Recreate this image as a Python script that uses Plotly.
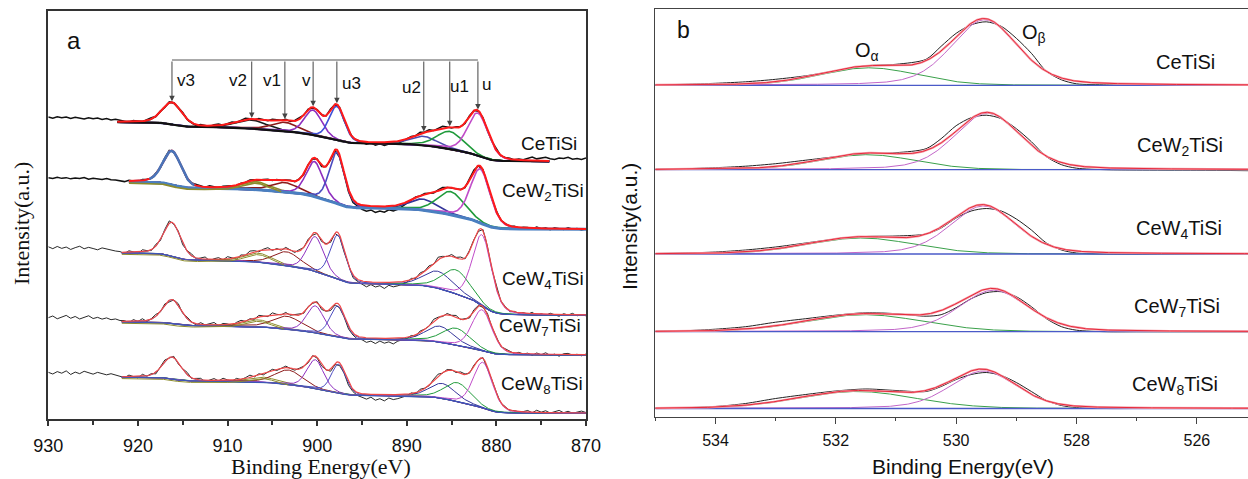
import numpy as np
import plotly.graph_objects as go

W, H = 1248, 479

# ---------------- Panel (a): Ce 3d XPS ----------------
be_a_range = [930, 870]
be_a_ticks = [930, 920, 910, 900, 890, 880, 870]
a_names = ["CeTiSi", "CeW<sub>2</sub>TiSi", "CeW<sub>4</sub>TiSi", "CeW<sub>7</sub>TiSi", "CeW<sub>8</sub>TiSi"]
ce_peak_labels = ["v3", "v2", "v1", "v", "u3", "u2", "u1", "u"]

# peak centres (eV), heights (a.u., above background), FWHM (eV): order v3 v2 v1 v u3 u2 u1 u
ce_center_CeTiSi = [916.2, 907.3, 903.6, 900.45, 897.8, 888.1, 885.2, 882.06]
ce_height_CeTiSi = [22, 8.5, 9, 25, 34, 9, 17.5, 43]
ce_fwhm_CeTiSi = [2.6, 4.0, 3.5, 2.3, 2.0, 3.5, 3.5, 2.7]

ce_center_CeW2 = [916.2, 906.8, 903.6, 900.3, 897.8, 888.2, 885.1, 881.8]
ce_height_CeW2 = [34, 8, 9.5, 35, 51, 11, 23, 54]
ce_fwhm_CeW2 = [2.4, 3.5, 3.5, 2.2, 2.0, 3.5, 3.5, 2.6]

ce_center_CeW4 = [916.2, 906.5, 903.4, 900.2, 897.7, 886.5, 884.5, 881.6]
ce_height_CeW4 = [34, 9, 14, 35, 44, 17, 24, 71]
ce_fwhm_CeW4 = [2.3, 3.5, 3.5, 2.2, 2.0, 3.8, 3.6, 2.5]

ce_center_CeW7 = [916.2, 906.5, 903.4, 900.2, 897.7, 886.3, 884.5, 881.6]
ce_height_CeW7 = [24, 7, 13, 27, 31, 16, 17, 41]
ce_fwhm_CeW7 = [2.4, 3.5, 3.8, 2.3, 2.0, 3.6, 3.6, 2.6]

ce_center_CeW8 = [916.2, 906.0, 903.2, 900.2, 897.6, 886.0, 884.35, 881.5]
ce_height_CeW8 = [22, 5, 14.5, 29, 29, 15, 19, 46]
ce_fwhm_CeW8 = [2.4, 3.5, 3.6, 2.2, 1.9, 3.4, 3.4, 2.5]

# background levels (stacked intensity, a.u.) at high-BE and low-BE side, fit window (eV)
bg_left_a = [297.3, 237.8, 166.6, 97.6, 42.3]
bg_right_a = [257.8, 190.0, 104.0, 64.3, 6.0]
fit_hi_a = [922.3, 921.0, 921.8, 921.8, 921.8]
fit_lo_a = [874.1, 870.0, 870.0, 870.0, 870.0]

# measured-minus-fit deviations of the raw spectra, 930 -> 870 eV every 0.5 eV
raw_dev_CeTiSi = [4.8, 3.6, 5.2, 4.1, 4.9, 3.4, 4.6, 3.9, 2.8, 4.2, 3.1, 3.8, 2.4, 3.3, 1.9, 2.6, 1.2,
    0.4, -0.6, 1.1, 0.2, -0.9, 0.7, 1.3, -0.4, 0.5, -1.0, 0.8, 0.3, -0.5, 1.2, -0.2, 0.6, -0.8, 1.0, 0.1, -0.6,
    0.9, 1.4, -0.3, 0.7, 1.1, -0.5, 0.4, 1.3, 0.2, -0.7, 0.9, 0.5, -0.2, 1.0, 0.3, -0.4, 0.8, -0.6, 0.6, 1.0,
    -0.3, 0.4, -0.8, 0.7, 0.2, -0.5, 0.9, -0.2, 0.5, -0.9, 0.3, -0.6, 0.4,
    -1.2, -2.3, -0.8, -2.9, -1.5, -3.1, -1.9, -0.7, -2.4, -1.1, -0.3,
    0.6, -0.4, 1.2, 0.3, 1.5, -0.2, 0.9, 1.8, 0.4, -0.5, 1.1, 0.2, -0.7, 0.8, 0.3, -0.4, 0.9, -0.3, 0.5, 1.0,
    -0.6, 0.4, 0.8, -0.2, 1.1, 0.6,
    2.1, 3.4, 1.8, 2.9, 3.6, 2.2, 1.6, 3.1, 2.5, 3.8, 2.0, 2.7, 1.7, 3.2]
raw_dev_CeW2 = [3.6, 2.8, 4.1, 3.0, 3.7, 2.5, 3.4, 2.9, 3.8, 2.2, 3.1, 2.6, 1.9, 2.8, 1.5, 1.1, 0.6,
    -0.5, 0.8, 0.2, -0.9, 1.0, 0.4, -0.3, 0.7, -0.8, 0.5, 1.2, -0.4, 0.3, 0.9, -0.6, 0.1, 1.1, 0.6, -0.2, 1.3,
    0.4, -0.5, 0.8, 1.0, 0.2, -0.7, 0.6, -0.1, 0.9, 0.3, -0.6, 0.5, 1.0, -0.3, 0.4, -0.8, 0.2, 0.7, -0.4, 0.5,
    -0.9, 0.3, -0.5, 0.6, -1.2, -0.4, -1.6, -0.8, -2.1, -1.5, -2.6, -3.2, -2.4,
    -4.1, -5.3, -3.8, -6.2, -4.6, -5.8, -3.5, -5.1, -4.3, -2.6, -1.4,
    -0.5, 0.7, -0.2, 1.1, 0.4, -0.6, 0.9, 1.4, 0.2, -0.4, 0.8, 0.3, -0.7, 0.6, 1.0, -0.3, 0.5, -0.8, 0.2, 0.9,
    -0.5, 0.4, -0.2, 0.7, -0.6, 0.3,
    0.5, -0.8, 1.2, -0.3, 0.6, -1.1, 0.9, 0.1, -0.7, 1.0, -0.4, 0.5, -0.9, 0.3]
raw_dev_CeW4 = [5.8, 3.9, 6.1, 4.2, 5.5, 3.1, 4.9, 6.3, 3.8, 5.2, 4.0, 2.7, 4.6, 3.3, 2.1, 1.4, 0.8,
    -1.2, 1.5, 0.3, -1.8, 2.1, 0.6, -0.9, 1.7, -1.4, 0.9, 2.3, -0.6, 1.1, -1.9, 0.4, 1.8, -1.0, 0.7, 2.0, -1.5,
    0.5, 1.6, -0.8, 2.2, 0.1, -1.6, 1.3, -0.5, 1.9, 0.8, -1.3, 1.0, 2.4, -0.7, 0.6, -1.7, 1.4, 0.2, -1.1, 1.5,
    -0.4, 0.9, -1.8, 0.3, -1.2, 0.7, -2.2, -0.6, -1.9, -2.8, -1.4, -3.0, -2.1,
    -3.1, -5.2, -2.6, -4.8, -3.4, -6.1, -2.9, -4.5, -3.7, -2.2, -1.5,
    1.2, -0.8, 2.0, 0.4, 1.6, -1.1, 2.5, 0.9, -0.5, 1.8, 0.3, 2.2, -0.9, 1.1, 0.6, -1.4, 1.5, 0.2, -1.0, 1.3,
    -0.6, 0.8, -1.3, 0.5, -0.8, 0.4,
    -0.7, 1.3, -1.6, 0.4, -1.2, 1.1, -0.5, -1.8, 0.9, -0.3, 1.4, -1.0, 0.2, -0.9]
raw_dev_CeW7 = [3.9, 5.6, 2.8, 4.7, 6.2, 3.3, 5.1, 2.6, 4.4, 5.8, 3.0, 4.2, 2.4, 3.6, 1.8, 2.5, 0.9,
    0.8, -1.4, 1.7, -0.3, 2.2, -1.1, 0.5, 1.9, -0.7, 1.2, -1.6, 0.4, 2.1, -0.5, 1.5, 0.2, -1.3, 1.8, -0.2, 0.9,
    2.4, -0.9, 1.3, 0.6, -1.5, 1.0, 2.0, -0.4, 0.7, -1.2, 1.6, 0.3, -0.8, 2.3, 0.1, -1.0, 1.4, -0.6, 0.8, 1.7,
    -1.1, 0.5, -0.9, 1.2, -1.7, -0.3, -2.0, -1.2, -2.6, -1.8, -3.1, -2.2, -2.9,
    -2.4, -4.6, -3.1, -5.4, -2.8, -4.9, -3.6, -5.7, -3.0, -2.1, -1.2,
    0.9, -1.2, 1.6, 0.2, -0.6, 2.1, 0.7, -0.9, 1.4, 0.3, 1.9, -0.4, 0.8, -1.5, 1.2, 0.5, -0.7, 1.7, -0.2, 0.6,
    -1.1, 1.0, 0.3, -0.8, 0.9, -0.4,
    0.6, -1.4, 1.1, -0.6, 1.5, -1.0, 0.3, -1.7, 0.8, 1.2, -0.5, 0.4, -1.1, 0.7]
raw_dev_CeW8 = [4.6, 2.9, 5.3, 3.7, 6.0, 2.4, 4.8, 3.2, 5.6, 3.9, 2.7, 4.5, 3.4, 2.0, 3.1, 1.6, 0.7,
    -0.9, 1.6, 0.2, -1.5, 2.0, -0.4, 1.1, -1.8, 0.7, 1.9, -0.6, 1.3, -1.2, 0.5, 2.2, -0.8, 0.9, 1.6, -1.4, 0.3,
    1.8, -0.5, 2.1, 0.4, -1.0, 1.4, -0.3, 0.8, 2.3, -0.7, 1.1, -1.3, 0.6, 1.7, -0.9, 0.2, 1.5, -0.4, -1.1, 0.9,
    0.4, -1.6, 0.7, -0.8, -1.9, 0.1, -2.3, -1.1, -2.8, -1.7, -3.3, -2.4, -3.0,
    -3.6, -5.1, -2.9, -5.8, -4.2, -6.3, -3.4, -5.0, -4.1, -2.5, -1.6,
    0.7, -1.1, 1.8, 0.3, -0.7, 1.5, 2.2, -0.5, 1.0, 0.4, -1.2, 1.6, 0.6, -0.8, 1.3, -0.3, 0.9, -1.4, 0.5, 1.1,
    -0.6, 0.8, -1.0, 0.4, -0.5, 0.2,
    1.5, -0.6, 2.1, 0.3, 1.8, -0.4, 1.2, 2.4, 0.1, 1.6, -0.3, 1.0, 1.9, 0.5]

# ---------------- Panel (b): O 1s XPS ----------------
be_b_range = [535, 525.15]
be_b_ticks = [534, 532, 530, 528, 526]
b_names = a_names
o_base = [331.4, 247.0, 162.7, 85.0, 8.2]
oa_center = [531.45, 531.48, 531.58, 531.52, 531.65]
oa_height = [17.5, 15.0, 16.0, 17.0, 17.0]
oa_fwhm = [1.9, 1.9, 2.1, 2.3, 2.3]
ob_center = [529.53, 529.48, 529.55, 529.38, 529.55]
ob_height = [65.5, 56.5, 48.0, 41.5, 37.5]
ob_fwhm = [1.3, 1.3, 1.3, 1.35, 1.3]
o_raw_be = [535, 534.5, 534, 533.5, 533, 532.5, 532, 531.5, 531, 530.5, 530.25, 530, 529.75, 529.5,
            529.25, 529, 528.75, 528.5, 528.25, 528, 527.5, 527, 526, 525.15]
o_raw_CeTiSi = [0.5, 1, 2, 3.5, 6, 9.5, 14.5, 19.5, 21, 26, 39, 52, 60.5, 63.5, 59, 47, 32, 14, 5.5, 1.5, 0.5, 0, 0, 0]
o_raw_CeW2 = [0.5, 1, 2, 3.5, 6, 9.5, 13, 16, 17, 21, 31, 44, 52, 54.5, 51, 41, 28, 13, 5, 1.5, 0, -0.3, -0.5, -1]
o_raw_CeW4 = [0.5, 1, 2, 4, 7, 11, 15, 17.5, 18, 20, 26, 36, 43, 45.5, 43, 35, 24, 11, 4, 1, 0, 0, 0, 0]
o_raw_CeW7 = [0.5, 1, 2.5, 5, 9.5, 13, 16.5, 19, 18, 15.5, 17, 24, 33, 39, 40, 35, 25, 13, 5, 1.5, 0, 0, 0, 0]
o_raw_CeW8 = [0.3, 0.8, 2, 5, 10, 14, 17.5, 19.5, 18, 17, 22, 29, 34, 36, 33, 26, 17, 8, 3, 1, 0, 0, 0, 0]

# ---------------- helpers ----------------
def pv(x, c, h, w, eta):
    r = (np.asarray(x, dtype=float) - c) / w
    return h * ((1 - eta) * np.exp(-4 * np.log(2) * r * r) + eta / (1 + 4 * r * r))

STEP = 0.05
xf = np.linspace(930, 870, 1201)

def shirley(peaksum, bl, br):
    cum = np.cumsum(peaksum[::-1])[::-1] * STEP
    return br + (bl - br) * cum / cum[0]

def PX(x):
    return x / W

def PY(y):
    return 1 - y / H

SANS = "Liberation Sans, Arial, sans-serif"
SERIF = "Liberation Serif, Times New Roman, serif"

fig = go.Figure()

ce_centers = [ce_center_CeTiSi, ce_center_CeW2, ce_center_CeW4, ce_center_CeW7, ce_center_CeW8]
ce_heights = [ce_height_CeTiSi, ce_height_CeW2, ce_height_CeW4, ce_height_CeW7, ce_height_CeW8]
ce_fwhms = [ce_fwhm_CeTiSi, ce_fwhm_CeW2, ce_fwhm_CeW4, ce_fwhm_CeW7, ce_fwhm_CeW8]
raw_devs = [raw_dev_CeTiSi, raw_dev_CeW2, raw_dev_CeW4, raw_dev_CeW7, raw_dev_CeW8]

comp_colors_top = ["#2a2a2a", "#1a1a1a", "#8b1a1a", "#8e2fbf", "#3f51d8", "#4b4bb0", "#1f9a3a", "#c04cc8"]
comp_colors = ["#4a74b8", "#8c8c2c", "#8b1a1a", "#8e2fbf", "#4b4bc0", "#35359a", "#1f9a3a", "#c04cc8"]
ETA_A = 0.25

top_env = None
for k in range(5):
    comps = [pv(xf, c, h, w, ETA_A) for c, h, w in zip(ce_centers[k], ce_heights[k], ce_fwhms[k])]
    total = np.sum(comps, axis=0)
    bg = shirley(total, bg_left_a[k], bg_right_a[k])
    env = bg + total
    if k == 0:
        top_env = env
    mask = (xf <= fit_hi_a[k] + 1e-9) & (xf >= fit_lo_a[k] - 1e-9)
    dev = np.array(raw_devs[k], dtype=float)
    xr = np.linspace(930, 870, len(dev))
    idx = np.clip(np.round((930 - xr) / STEP).astype(int), 0, len(xf) - 1)
    raw = env[idx] + dev
    thick = k < 2
    fig.add_trace(go.Scatter(x=xr, y=raw, mode="lines", xaxis="x", yaxis="y",
                             line=dict(color="#111111", width=1.5 if thick else 0.9)))
    cols = comp_colors_top if k == 0 else comp_colors
    for j, cp in enumerate(comps):
        fig.add_trace(go.Scatter(x=xf[mask], y=(bg + cp)[mask], mode="lines", xaxis="x", yaxis="y",
                                 line=dict(color=cols[j], width=1.6 if thick else 1.0)))
    if k == 0:
        bgc, bgw = "#111111", 2.2
    elif k == 1:
        bgc, bgw = "#4a7fc0", 3.0
    else:
        bgc, bgw = "#3c56b8", 1.2
    fig.add_trace(go.Scatter(x=xf[mask], y=bg[mask], mode="lines", xaxis="x", yaxis="y",
                             line=dict(color=bgc, width=bgw)))
    if k >= 1:
        # v2 (olive) component on its high-BE side, drawn over the background
        m2 = mask & (xf >= ce_centers[k][1] - ce_fwhms[k][1] * 0.8)
        fig.add_trace(go.Scatter(x=xf[m2], y=(bg + comps[1])[m2] - 1.5, mode="lines", xaxis="x", yaxis="y",
                                 line=dict(color=comp_colors[1], width=1.6 if thick else 1.0)))
    fig.add_trace(go.Scatter(x=xf[mask], y=env[mask], mode="lines", xaxis="x", yaxis="y",
                             line=dict(color="#ff1a1a" if thick else "#f04848", width=2.0 if thick else 1.2)))
    if k == 1:
        # thick blue v3 component drawn on top for CeW2TiSi
        m3 = mask & (xf >= ce_centers[k][0] - 2.5) & (xf <= ce_centers[k][0] + 2.5)
        fig.add_trace(go.Scatter(x=xf[m3], y=(bg + comps[0])[m3], mode="lines", xaxis="x", yaxis="y",
                                 line=dict(color=comp_colors[0], width=2.6)))

# panel b traces
o_raws = [o_raw_CeTiSi, o_raw_CeW2, o_raw_CeW4, o_raw_CeW7, o_raw_CeW8]
xb = np.linspace(535, 525.15, 800)
for k in range(5):
    b0 = o_base[k]
    oa = pv(xb, oa_center[k], oa_height[k], oa_fwhm[k], 0.1)
    ob = pv(xb, ob_center[k], ob_height[k], ob_fwhm[k], 0.3)
    fig.add_trace(go.Scatter(x=o_raw_be, y=[b0 + v for v in o_raws[k]], mode="lines", xaxis="x2", yaxis="y2",
                             line=dict(color="#222222", width=1.0, shape="spline", smoothing=0.8)))
    fig.add_trace(go.Scatter(x=xb, y=b0 + oa, mode="lines", xaxis="x2", yaxis="y2",
                             line=dict(color="#3aa04a", width=1.0)))
    fig.add_trace(go.Scatter(x=xb, y=b0 + ob, mode="lines", xaxis="x2", yaxis="y2",
                             line=dict(color="#c266c8", width=1.0)))
    fig.add_trace(go.Scatter(x=xb, y=np.full_like(xb, b0), mode="lines", xaxis="x2", yaxis="y2",
                             line=dict(color="#4a5ac8", width=1.3)))
    fig.add_trace(go.Scatter(x=xb, y=b0 + oa + ob, mode="lines", xaxis="x2", yaxis="y2",
                             line=dict(color="#f4a0aa", width=2.2)))
    fig.add_trace(go.Scatter(x=xb, y=b0 + oa + ob, mode="lines", xaxis="x2", yaxis="y2",
                             line=dict(color="#e8283a", width=1.0)))

annotations = []
shapes = []

# peak marker arrows on the top spectrum of panel a
CONNECT_Y = 359.3
label_side = [1, -1, -1, -1, 1, -1, 1, 1]
label_shift = [14, 14, 13, 7, 15, 12, 10, 9]
label_y = [339.3, 339.3, 339.3, 339.3, 336.0, 332.0, 333.3, 335.3]
for j, c in enumerate(ce_center_CeTiSi):
    i = int(round((930 - c) / STEP))
    tip = top_env[i] + 1.0
    annotations.append(dict(x=c, y=tip, ax=c, ay=CONNECT_Y, xref="x", yref="y", axref="x", ayref="y",
                            text="", showarrow=True, arrowhead=2, arrowsize=1.1, arrowwidth=1.0,
                            arrowcolor="#444444", standoff=0))
    annotations.append(dict(x=c, y=label_y[j], xref="x", yref="y", text=ce_peak_labels[j], showarrow=False,
                            xshift=label_side[j] * label_shift[j], font=dict(family=SANS, size=17, color="#111")))
shapes.append(dict(type="line", xref="x", yref="y", x0=ce_center_CeTiSi[0], x1=ce_center_CeTiSi[-1],
                   y0=CONNECT_Y, y1=CONNECT_Y, line=dict(color="#555555", width=1.0)))

# sample labels
a_label_pos = [(549, 143.3), (543, 192), (542.7, 280), (540, 326.7), (542, 385)]
for name, (xp, yp) in zip(a_names, a_label_pos):
    annotations.append(dict(x=PX(xp), y=PY(yp), xref="paper", yref="paper", text=name, showarrow=False,
                            xanchor="center", yanchor="middle", font=dict(family=SANS, size=19, color="#111")))
b_label_pos = [(1185, 61.7), (1180, 146.7), (1178.7, 230), (1176.7, 307.3), (1175, 385)]
for name, (xp, yp) in zip(b_names, b_label_pos):
    annotations.append(dict(x=PX(xp), y=PY(yp), xref="paper", yref="paper", text=name, showarrow=False,
                            xanchor="center", yanchor="middle", font=dict(family=SANS, size=20, color="#111")))

# panel letters, O labels
annotations.append(dict(x=PX(74), y=PY(41), xref="paper", yref="paper", text="a", showarrow=False,
                        xanchor="center", yanchor="middle", font=dict(family=SANS, size=24, color="#111")))
annotations.append(dict(x=PX(683), y=PY(30), xref="paper", yref="paper", text="b", showarrow=False,
                        xanchor="center", yanchor="middle", font=dict(family=SANS, size=23, color="#111")))
annotations.append(dict(x=PX(867), y=PY(51), xref="paper", yref="paper", text="O<sub>α</sub>", showarrow=False,
                        xanchor="center", yanchor="middle", font=dict(family=SANS, size=20, color="#111")))
annotations.append(dict(x=PX(1034), y=PY(34), xref="paper", yref="paper", text="O<sub>β</sub>", showarrow=False,
                        xanchor="center", yanchor="middle", font=dict(family=SANS, size=20, color="#111")))

# axis titles
annotations.append(dict(x=PX(321), y=PY(466), xref="paper", yref="paper", text="Binding Energy(eV)",
                        showarrow=False, xanchor="center", yanchor="middle",
                        font=dict(family=SERIF, size=22, color="#111")))
annotations.append(dict(x=PX(21), y=PY(224), xref="paper", yref="paper", text="Intensity(a.u.)",
                        showarrow=False, xanchor="center", yanchor="middle", textangle=-90,
                        font=dict(family=SERIF, size=22, color="#111")))
annotations.append(dict(x=PX(963), y=PY(466), xref="paper", yref="paper", text="Binding Energy(eV)",
                        showarrow=False, xanchor="center", yanchor="middle",
                        font=dict(family=SANS, size=21, color="#111")))
annotations.append(dict(x=PX(629), y=PY(227), xref="paper", yref="paper", text="Intensity(a.u.)",
                        showarrow=False, xanchor="center", yanchor="middle", textangle=-90,
                        font=dict(family=SANS, size=21, color="#111")))

fig.update_layout(
    template="none",
    width=W, height=H, margin=dict(l=0, r=0, t=0, b=0, pad=0), autosize=False,
    paper_bgcolor="white", plot_bgcolor="white", showlegend=False, hovermode=False,
    annotations=annotations, shapes=shapes,
    xaxis=dict(domain=[PX(48.3), PX(586)], range=be_a_range, tickvals=be_a_ticks, automargin=False,
               ticks="outside", ticklen=5, tickwidth=1.5, tickcolor="#333",
               minor=dict(dtick=5, tick0=930, ticks="outside", ticklen=4, tickwidth=1.5, tickcolor="#333"),
               showline=True, linecolor="#333", linewidth=1.8, mirror=True,
               showgrid=False, zeroline=False, ticklabelstandoff=4,
               tickfont=dict(family=SANS, size=18, color="#111"), anchor="y"),
    yaxis=dict(domain=[PY(419.3), PY(11)], range=[0, 408.3], showticklabels=False, ticks="", automargin=False,
               showline=True, linecolor="#333", linewidth=1.8, mirror=True,
               showgrid=False, zeroline=False, anchor="x"),
    xaxis2=dict(domain=[PX(655.3), 1.0], range=be_b_range, tickvals=be_b_ticks, automargin=False,
                ticks="outside", ticklen=6, tickwidth=1.3, tickcolor="#444",
                minor=dict(dtick=1, tick0=535, ticks="outside", ticklen=3.5, tickwidth=1.3, tickcolor="#444"),
                showline=True, linecolor="#444", linewidth=1.3, mirror=True,
                showgrid=False, zeroline=False, ticklabelstandoff=3,
                tickfont=dict(family=SANS, size=16, color="#111"), anchor="y2"),
    yaxis2=dict(domain=[PY(416.7), PY(9.3)], range=[0, 407.4], showticklabels=False, ticks="", automargin=False,
                showline=True, linecolor="#444", linewidth=1.3, mirror=False,
                showgrid=False, zeroline=False, anchor="x2"),
)

fig.write_html("out.html", config={"displayModeBar": False, "responsive": False},
               post_script="document.body.style.margin='0';document.body.style.overflow='hidden';")
